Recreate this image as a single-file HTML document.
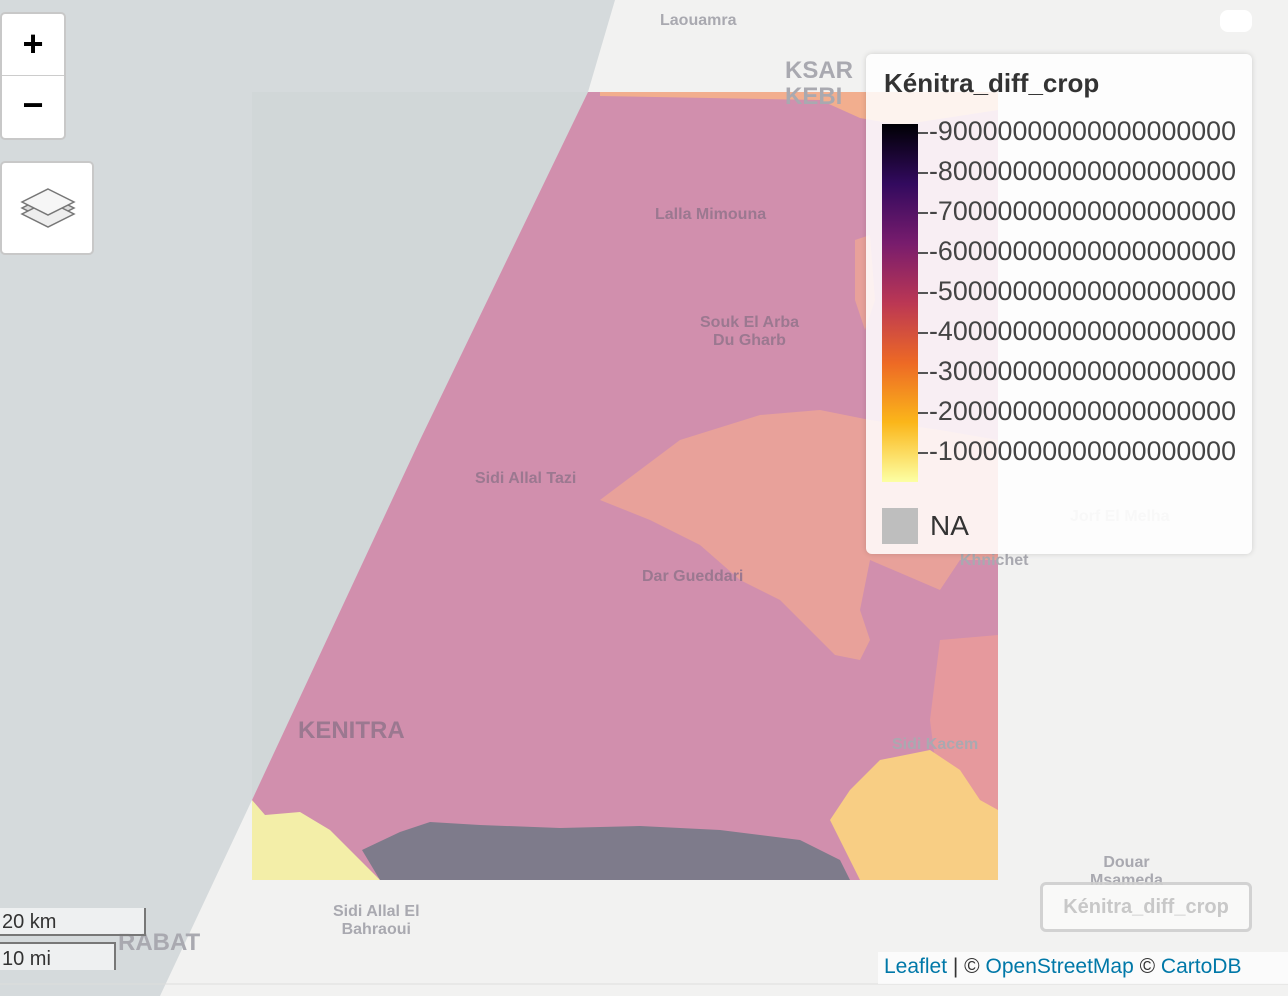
<!DOCTYPE html>
<html><head><meta charset="utf-8"><style>
body{margin:0;width:1288px;height:996px;overflow:hidden;font-family:"Liberation Sans",sans-serif;background:#f2f2f1}
.abs{position:absolute}
.lbl{position:absolute;color:#a9a9b0;font-weight:bold;font-size:16px;text-align:center;line-height:18px}
</style></head><body>
<div class="abs" style="left:0;top:0;width:1288px;height:996px">
<svg width="1288" height="996" class="abs" style="left:0;top:0">
 <polygon points="0,0 615,0 588,92 252,800 160,996 0,996" fill="#d5dadc"/>
 <g>
  <rect x="252" y="92" width="746" height="788" fill="#cbd1d2" opacity="0.35"/>
  <polygon points="588,92 998,92 998,880 252,880 252,800 420,440" fill="#d18fad"/>
  <polygon points="600,92 998,92 998,110 900,125 860,118 820,100 600,96" fill="#f2ae8e"/>
  <polygon points="600,500 640,470 680,440 760,415 820,410 870,420 940,430 998,440 998,560 960,560 940,590 870,560 860,610 870,640 860,660 835,655 810,630 780,600 740,580 700,545 650,520" fill="#e8a19a"/>
  <polygon points="855,240 870,235 875,300 865,330 855,300" fill="#e8a19a"/>
  <polygon points="940,640 998,635 998,880 970,860 940,800 930,720" fill="#e6999d"/>
  <polygon points="880,760 930,750 960,770 980,800 998,810 998,880 860,880 830,820 850,790" fill="#f8ce84"/>
  <polygon points="252,800 265,815 300,812 330,830 360,860 380,880 252,880" fill="#f3eea8"/>
  <polygon points="362,850 400,832 430,822 480,825 560,828 640,826 720,830 800,840 840,860 850,880 380,880" fill="#7e7b8b"/>
 </g>
 <line x1="0" y1="984" x2="1288" y2="984" stroke="#ddd"/>
</svg>
<div class="lbl" style="left:660px;top:12px">Laouamra</div>
<div class="lbl" style="left:785px;top:58px;font-size:24px;line-height:26px;text-align:left">KSAR<br>KEBI</div>
<div class="lbl" style="left:655px;top:206px;color:#9b7890">Lalla Mimouna</div>
<div class="lbl" style="left:700px;top:314px;color:#9b7890">Souk El Arba<br>Du Gharb</div>
<div class="lbl" style="left:475px;top:470px;color:#9b7890">Sidi Allal Tazi</div>
<div class="lbl" style="left:642px;top:568px;color:#9b7890">Dar Gueddari</div>
<div class="lbl" style="left:298px;top:718px;color:#9b7890;font-size:24px;line-height:26px">KENITRA</div>
<div class="lbl" style="left:892px;top:736px">Sidi Kacem</div>
<div class="lbl" style="left:960px;top:552px">Khnichet</div>
<div class="lbl" style="left:1090px;top:854px">Douar<br>Msameda</div>
<div class="lbl" style="left:333px;top:903px">Sidi Allal El<br>Bahraoui</div>
<div class="lbl" style="left:118px;top:930px;font-size:24px;line-height:26px">RABAT</div>
<div class="lbl" style="left:1070px;top:508px;color:#ccc">Jorf El Melha</div>

<div class="abs" style="left:0;top:12px;width:62px;height:124px;background:#fff;border:2px solid #c8c8c8;border-radius:5px">
 <div style="height:61px;border-bottom:1px solid #ccc;text-align:center;font-size:36px;line-height:60px;font-weight:bold;color:#000">+</div>
 <div style="height:61px;text-align:center;font-size:36px;line-height:58px;font-weight:bold;color:#000">−</div>
</div>
<div class="abs" style="left:0;top:161px;width:90px;height:90px;background:#fff;border:2px solid #c8c8c8;border-radius:5px">
 <svg width="90" height="90"><g fill="#ddd" stroke="#777" stroke-width="1.5"><polygon points="46,32 72,45 46,58 20,45"/><polygon points="46,38 72,51 46,64 20,51" fill="#eee"/><polygon points="46,26 72,39 46,52 20,39" fill="#f6f6f6"/></g></svg>
</div>
<div class="abs" style="left:1220px;top:10px;width:32px;height:22px;background:#fff;border-radius:8px"></div>

<div class="abs" style="left:866px;top:54px;width:386px;height:500px;background:rgba(255,255,255,0.85);border-radius:6px;box-shadow:0 0 6px rgba(0,0,0,0.15)">
 <div class="abs" style="left:18px;top:14px;font-size:26px;font-weight:bold;color:#333">Kénitra_diff_crop</div>
 <div class="abs" style="left:16px;top:70px;width:36px;height:358px;background:linear-gradient(to bottom,#000004,#320a5e,#781c6d,#bb3754,#ed6925,#fbb61a,#fcffa4)"></div>
 <div id="ticks"></div>
 <div class="abs" style="left:16px;top:454px;width:36px;height:36px;background:#bebebe"></div>
 <div class="abs" style="left:64px;top:456px;font-size:28px;color:#333">NA</div>
</div>

<div class="abs" style="left:1040px;top:882px;width:206px;height:44px;border:3px solid rgba(200,200,200,0.8);border-radius:6px;background:rgba(255,255,255,0.5);font-size:20px;font-weight:bold;color:#c8c8c8;text-align:center;line-height:44px">Kénitra_diff_crop</div>
<div class="abs" style="left:0;top:908px;width:142px;height:26px;border:2px solid #777;border-top:none;border-left:none;background:rgba(255,255,255,0.6);font-size:20px;color:#333;line-height:28px;padding-left:2px">20 km</div>
<div class="abs" style="left:0;top:942px;width:112px;height:26px;border:2px solid #777;border-bottom:none;border-left:none;background:rgba(255,255,255,0.6);font-size:20px;color:#333;line-height:30px;padding-left:2px">10 mi</div>
<div class="abs" style="left:878px;top:952px;width:410px;height:32px;background:rgba(255,255,255,0.7);font-size:21px;color:#333;line-height:30px;padding-left:6px"><span style="color:#0078a8">Leaflet</span> | © <span style="color:#0078a8">OpenStreetMap</span> © <span style="color:#0078a8">CartoDB</span></div>
</div>
<script>
const tickLabels=["-90000000000000000000","-80000000000000000000","-70000000000000000000","-60000000000000000000","-50000000000000000000","-40000000000000000000","-30000000000000000000","-20000000000000000000","-10000000000000000000"];
const c=document.getElementById('ticks');
tickLabels.forEach((t,i)=>{
const tk=document.createElement('div');


tk.className='abs';tk.style.cssText='left:52px;top:'+(78+i*40)+'px;width:10px;height:2px;background:#555';
c.appendChild(tk);
const d=document.createElement('div');


d.className='abs';d.style.cssText='left:63px;top:'+(62+i*40)+'px;font-size:26.8px;color:#444;white-space:nowrap';
d.textContent=t;c.appendChild(d);});
</script>
</body></html>
